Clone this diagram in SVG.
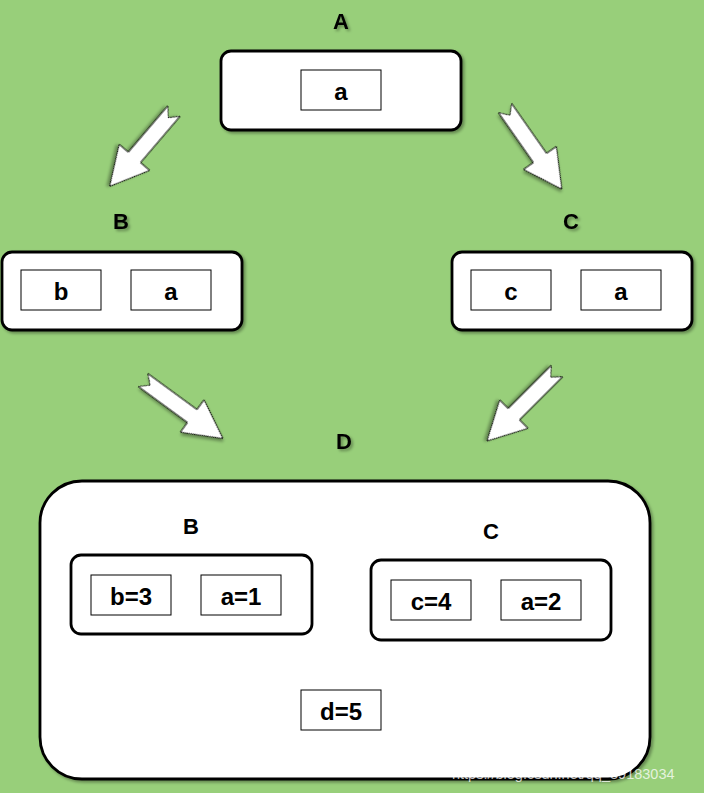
<svg xmlns="http://www.w3.org/2000/svg" width="704" height="793" viewBox="0 0 704 793">
  <defs>
    <filter id="sh" x="-20%" y="-20%" width="140%" height="140%">
      <feDropShadow dx="2" dy="2" stdDeviation="1.5" flood-color="#000" flood-opacity="0.35"/>
    </filter>
    <polygon id="arr" points="0,-8 61,-8 61,-20 99,0 61,20 61,8 0,8 9,0"/>
    <style>
      .outer { fill: #fff; stroke: #000; stroke-width: 2.8; }
      .inner { fill: #fff; stroke: #000; stroke-width: 1; }
      .txt { font-family: "Liberation Sans", Arial, sans-serif; font-weight: bold; font-size: 24px; text-anchor: middle; dominant-baseline: central; fill: #000; }
      .lbl { font-family: "Liberation Sans", Arial, sans-serif; font-weight: bold; font-size: 22px; text-anchor: middle; dominant-baseline: central; fill: #000; }
      .arrow { fill: #fff; stroke: #000; stroke-width: 1; stroke-linejoin: miter; }
      .wm { font-family: "Liberation Sans", Arial, sans-serif; font-size: 14.5px; fill: #fff; fill-opacity: 0.75; }
    </style>
  </defs>
  <rect width="704" height="793" fill="#98cf7a"/>

  <g id="nodeA">
    <text class="lbl" x="341" y="21" filter="url(#sh)">A</text>
    <rect class="outer" x="221" y="51" width="240" height="79" rx="10" filter="url(#sh)"/>
    <rect class="inner" x="301" y="70" width="80" height="40"/>
    <text class="txt" x="341" y="91">a</text>
  </g>

  <g id="nodeB">
    <text class="lbl" x="121" y="221" filter="url(#sh)">B</text>
    <rect class="outer" x="2" y="252" width="240" height="78" rx="10" filter="url(#sh)"/>
    <rect class="inner" x="21" y="270" width="80" height="40"/>
    <text class="txt" x="61" y="291">b</text>
    <rect class="inner" x="131" y="270" width="80" height="40"/>
    <text class="txt" x="171" y="291">a</text>
  </g>

  <g id="nodeC">
    <text class="lbl" x="571" y="221" filter="url(#sh)">C</text>
    <rect class="outer" x="452" y="252" width="240" height="78" rx="10" filter="url(#sh)"/>
    <rect class="inner" x="471" y="270" width="80" height="40"/>
    <text class="txt" x="511" y="291">c</text>
    <rect class="inner" x="581" y="270" width="80" height="40"/>
    <text class="txt" x="621" y="291">a</text>
  </g>

  <g id="nodeD">
    <text class="lbl" x="344" y="441" filter="url(#sh)">D</text>
    <rect class="outer" x="40" y="481" width="610" height="298" rx="42" filter="url(#sh)"/>
    <g id="nodeD_B">
      <text class="lbl" x="191" y="526">B</text>
      <rect class="outer" x="71" y="555" width="241" height="79" rx="10"/>
      <rect class="inner" x="91" y="575" width="80" height="40"/>
      <text class="txt" x="131" y="596">b=3</text>
      <rect class="inner" x="201" y="575" width="80" height="40"/>
      <text class="txt" x="241" y="596">a=1</text>
    </g>
    <g id="nodeD_C">
      <text class="lbl" x="491" y="531">C</text>
      <rect class="outer" x="371" y="560" width="240" height="80" rx="10"/>
      <rect class="inner" x="391" y="580" width="80" height="40"/>
      <text class="txt" x="431" y="601">c=4</text>
      <rect class="inner" x="501" y="580" width="80" height="40"/>
      <text class="txt" x="541" y="601">a=2</text>
    </g>
    <g id="nodeD_d">
      <rect class="inner" x="301" y="690" width="80" height="40"/>
      <text class="txt" x="341" y="711">d=5</text>
    </g>
  </g>

  <g id="connectors">
    <use href="#arr" class="arrow" filter="url(#sh)" transform="translate(174,111) rotate(130.5)"/>
    <use href="#arr" class="arrow" filter="url(#sh)" transform="translate(505,108) rotate(55)"/>
    <use href="#arr" class="arrow" filter="url(#sh)" transform="translate(143,380) rotate(36.2)"/>
    <use href="#arr" class="arrow" filter="url(#sh)" transform="translate(557,371) rotate(135)"/>
  </g>

  <text class="wm" x="452" y="779">https://blog.csdn.net/qq_39183034</text>
</svg>
